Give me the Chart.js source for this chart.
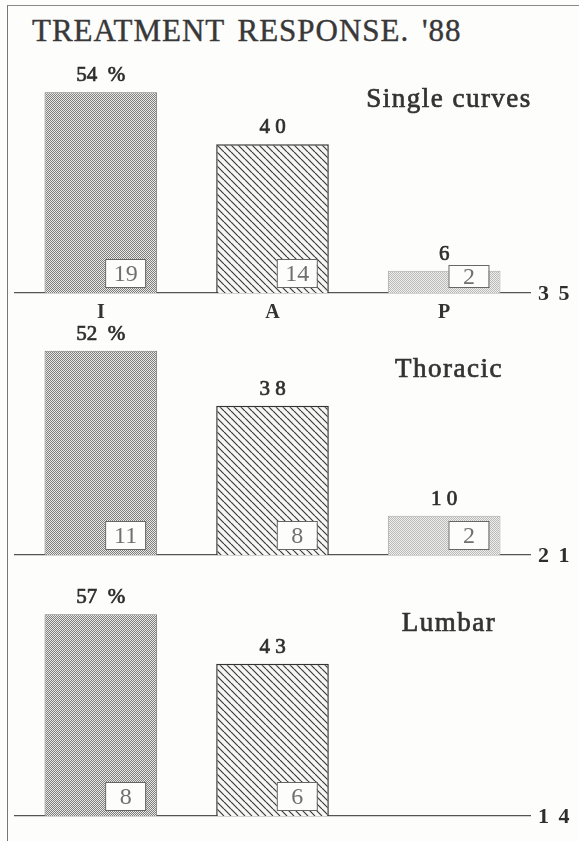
<!DOCTYPE html>
<html>
<head>
<meta charset="utf-8">
<script src="https://cdn.jsdelivr.net/npm/chart.js@4.4.0/dist/chart.umd.min.js"></script>
<style>
  body { margin: 0; background: #fdfdfc; }
  #page { position: relative; width: 579px; height: 841px; overflow: hidden; }
  #frame { position: absolute; left: 7px; top: 5px; width: 700px; height: 900px;
           border-left: 1.5px solid #777; border-top: 1.5px solid #8a8a8a; }
  #title { position: absolute; left: 32px; top: 13px; font: 31px "Liberation Serif", serif;
           color: #383838; letter-spacing: 1px; word-spacing: 4px; white-space: nowrap;
           -webkit-text-stroke: 0.4px #383838; }
  .panel { position: absolute; left: 0; width: 579px; }
</style>
</head>
<body>
<div id="page">
  <div id="frame"></div>
  <div id="title">TREATMENT RESPONSE. '88</div>
  <div class="panel" style="top:40px;height:289px"><canvas id="chartSingle"></canvas></div>
  <div class="panel" style="top:320px;height:250px"><canvas id="chartThoracic"></canvas></div>
  <div class="panel" style="top:585px;height:246px"><canvas id="chartLumbar"></canvas></div>
</div>
<script>
// categories and values (% responding, n inside the box)
const categories = ['I', 'A', 'P'];
const panelNames = ['Single curves', 'Thoracic', 'Lumbar'];
const singlePct = [54, 40, 6];
const singleN = [19, 14, 2];
const thoracicPct = [52, 38, 10];
const thoracicN = [11, 8, 2];
const lumbarPct = [57, 43];
const lumbarN = [8, 6];
const totals = [35, 21, 14];

const SERIF = '"Liberation Serif", "Times New Roman", serif';

function makePattern(size, draw) {
    const c = document.createElement('canvas');
    c.width = c.height = size;
    const g = c.getContext('2d');
    draw(g, size);
    return g.createPattern(c, 'repeat');
}

// dark fine stipple
const stippleDark = makePattern(2, (g) => {
    g.fillStyle = '#e8e8e6'; g.fillRect(0, 0, 2, 2);
    g.fillStyle = '#7e7e7e'; g.fillRect(0, 0, 1, 1); g.fillRect(1, 1, 1, 1);
});
// diagonal hatch
const hatch = makePattern(7, (g, s) => {
    g.fillStyle = '#f6f6f4'; g.fillRect(0, 0, s, s);
    g.strokeStyle = '#3a3a3a'; g.lineWidth = 1.2;
    g.beginPath();
    [-s, 0, s].forEach((k) => { g.moveTo(k, 0); g.lineTo(k + s, s); });
    g.stroke();
});
// light stipple
const stippleLight = makePattern(2, (g) => {
    g.fillStyle = '#efefed'; g.fillRect(0, 0, 2, 2);
    g.fillStyle = '#bababa'; g.fillRect(0, 0, 1, 1); g.fillRect(1, 1, 1, 1);
});

function spaced(v) {
    return String(v).split('').join(' ');
}

// heavier-looking serif text, like the printed original
function inkText(ctx, txt, x, y, w) {
    ctx.fillText(txt, x, y);
    ctx.lineWidth = w;
    ctx.strokeStyle = ctx.fillStyle;
    ctx.strokeText(txt, x, y);
}

// labels, count boxes, panel name and total
const panelText = {
    id: 'panelText',
    afterDatasetsDraw(chart, args, opts) {
        const { ctx, chartArea } = chart;
        const meta = chart.getDatasetMeta(0);
        const values = chart.data.datasets[0].data;
        ctx.save();
        meta.data.forEach((bar, i) => {
            const v = values[i];
            if (v == null) return;
            const { x, y, base, width } = bar.getProps(['x', 'y', 'base', 'width'], true);
            ctx.fillStyle = '#2e2e2e';
            ctx.font = '21px ' + SERIF;
            ctx.textAlign = 'center';
            ctx.textBaseline = 'bottom';
            inkText(ctx, i === 0 ? v + '  %' : spaced(v), x, y - 6, 0.7);

            const right = x + width / 2 - 12;
            const h = Math.min(28, Math.max(22, base - y - 10));
            const bx = right - 40, by = base - 6 - h;
            ctx.fillStyle = '#fdfdfc';
            ctx.fillRect(bx, by, 40, h);
            ctx.strokeStyle = '#666';
            ctx.lineWidth = 1;
            ctx.strokeRect(bx + 0.5, by + 0.5, 40, h);
            ctx.fillStyle = '#707070';
            ctx.font = '24px ' + SERIF;
            ctx.textBaseline = 'middle';
            ctx.fillText(opts.counts[i], bx + 20.5, by + h / 2 + 1.5);
        });
        ctx.fillStyle = '#333';
        ctx.font = '27px ' + SERIF;
        ctx.textAlign = 'center';
        ctx.textBaseline = 'middle';
        ctx.letterSpacing = '1.5px';
        inkText(ctx, opts.name, 449, opts.nameY, 0.7);
        ctx.letterSpacing = '2px';
        ctx.font = 'bold 22px ' + SERIF;
        ctx.textAlign = 'left';
        ctx.fillStyle = '#2e2e2e';
        ctx.fillText(spaced(opts.total), chartArea.right + 8, chartArea.bottom + 1);
        ctx.restore();
    }
};

function makeChart(id, pct, counts, name, total, yMax, padTop, nameY, showTicks) {
    return new Chart(document.getElementById(id), {
        type: 'bar',
        data: {
            labels: categories,
            datasets: [{
                data: pct,
                backgroundColor: [stippleDark, hatch, stippleLight],
                borderColor: ['#7a7a7a', '#333333', '#a8a8a8'],
                borderWidth: [1, 1.5, 1],
                barPercentage: 0.8,
                categoryPercentage: 0.82
            }]
        },
        options: {
            responsive: true,
            maintainAspectRatio: false,
            animation: false,
            layout: { padding: { left: 15, right: 49, top: padTop, bottom: showTicks ? 0 : 14 } },
            plugins: {
                legend: { display: false },
                tooltip: { enabled: false },
                panelText: { counts: counts, name: name, total: total, nameY: nameY }
            },
            scales: {
                x: {
                    grid: { drawOnChartArea: false, drawTicks: false, color: 'transparent' },
                    border: { display: true, color: '#555', width: 1.2 },
                    ticks: { display: showTicks, color: '#333', padding: 8, font: { family: SERIF, size: 20, weight: 'bold' } },
                    afterFit: (scale) => { scale.height = showTicks ? 36 : 1; }
                },
                y: { display: false, min: 0, max: yMax }
            }
        },
        plugins: [panelText]
    });
}

makeChart('chartSingle', singlePct, singleN, panelNames[0], totals[0], 60, 30, 60, true);
makeChart('chartThoracic', thoracicPct, thoracicN, panelNames[1], totals[1], 56, 15, 50, false);
makeChart('chartLumbar', lumbarPct, lumbarN, panelNames[2], totals[2], 61, 15, 39, false);
</script>
</body>
</html>
